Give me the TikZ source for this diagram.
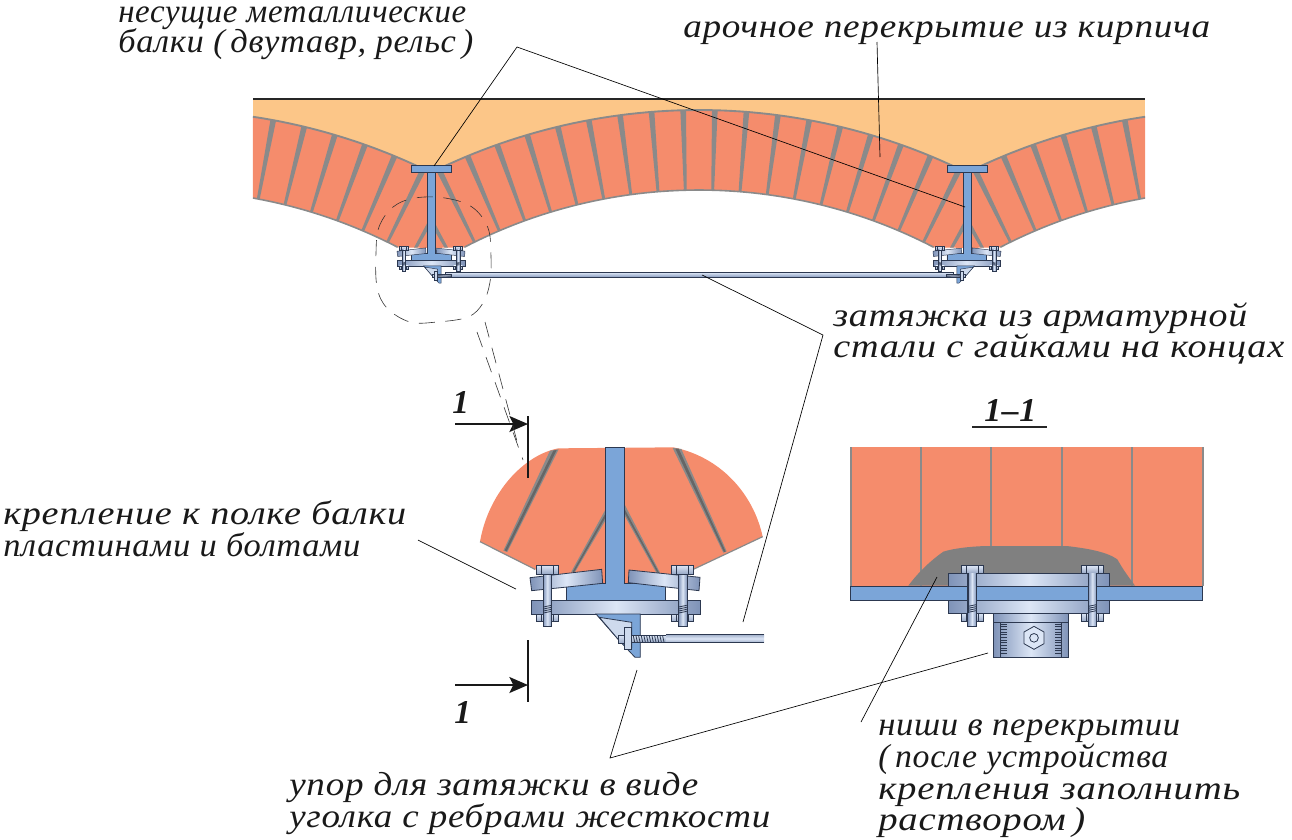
\documentclass[tikz,border=0pt]{standalone}
\usepackage{fontspec}
\usepackage{graphicx}
\usetikzlibrary{arrows.meta,calc}
\setmainfont{Liberation Serif}
\newfontfamily\labfont[LetterSpace=2]{Liberation Serif}
\definecolor{brick}{HTML}{F58C6C}
\definecolor{fillup}{HTML}{FCC688}
\definecolor{mortar}{HTML}{8A8A8A}
\definecolor{steel}{HTML}{7BA5D8}
\definecolor{edge}{HTML}{2C3850}
\definecolor{pdark}{HTML}{7F93B8}
\definecolor{plight}{HTML}{DCE6F6}
\newcommand\dlw{0.5pt}
\newsavebox\fitbox
\newlength\fitlen
% sets text on a given width in reference pixels
\newcommand\fit[2]{\sbox\fitbox{#2}\setlength\fitlen{\wd\fitbox}\pgfmathsetmacro\fitk{#1*0.75/\fitlen}\scalebox{\fitk}[1]{\usebox\fitbox}}
\tikzset{
  lab/.style={anchor=base west,inner sep=0pt,font=\labfont\itshape\fontsize{25}{25}\selectfont,text=black!90},
  leader/.style={draw=black,line width=0.5pt},
  bluepart/.style={fill=steel,draw=edge,line width=\dlw},
  hgrad/.style={left color=pdark,right color=pdark,middle color=plight,draw=edge,line width=\dlw},
  vgrad/.style={top color=plight,bottom color=pdark!80,draw=edge,line width=\dlw},
  lightpart/.style={fill=plight!85!pdark,draw=edge,line width=\dlw},
  dashline/.style={draw=black!80,line width=0.45pt,dash pattern=on 12pt off 8pt},
  secmark/.style={draw=black!90,line width=1.4pt},
  secarrow/.style={draw=black!90,line width=1.4pt,-{Stealth[length=14pt,width=12pt,inset=3pt]}},
}
% wedge-shaped joint: centre x, side sign, angle
\newcommand\joint[3]{%
  \pgfmathsetmacro\tx{#1+#2*605*sin(#3)}%
  \pgfmathsetmacro\ty{715-605*cos(#3)}%
  \pgfmathsetmacro\dxx{#1-\tx}%
  \pgfmathsetmacro\dyy{700-\ty}%
  \pgfmathsetmacro\len{veclen(\dxx,\dyy)}%
  \pgfmathsetmacro\ux{\dxx/\len}%
  \pgfmathsetmacro\uy{\dyy/\len}%
  \fill[mortar] (\tx-\ux*4-\uy*2.9,\ty-\uy*4+\ux*2.9) -- (\tx-\ux*4+\uy*2.9,\ty-\uy*4-\ux*2.9) -- (\tx+\ux*160,\ty+\uy*160) -- cycle;%
}
\newcommand\archL{plot[domain=8.55:26.3,samples=30] ({163+605*sin(\x)},{715-605*cos(\x)}) -- (431,248) -- plot[domain=27.4:10.16,samples=30] ({163+510*sin(\x)},{700-510*cos(\x)}) -- cycle}
\newcommand\archC{plot[domain=-26.3:26.3,samples=60] ({699+605*sin(\x)},{715-605*cos(\x)}) -- (967,248) -- plot[domain=27.4:-27.4,samples=60] ({699+510*sin(\x)},{700-510*cos(\x)}) -- (431,248) -- cycle}
\newcommand\archR{plot[domain=-8.55:-26.3,samples=30] ({1235+605*sin(\x)},{715-605*cos(\x)}) -- (967,248) -- plot[domain=-27.4:-10.16,samples=30] ({1235+510*sin(\x)},{700-510*cos(\x)}) -- cycle}
\newcommand\boltz[6]{%
  \draw[vgrad] (#1-33,#2) rectangle (#1+33,#3);
  \draw[edge,line width=\dlw] (#1-18,#2) -- (#1-18,#3) (#1+18,#2) -- (#1+18,#3);
  \draw[vgrad] (#1-33,#4) rectangle (#1+33,#5);
  \draw[edge,line width=\dlw] (#1-18,#4) -- (#1-18,#5) (#1+18,#4) -- (#1+18,#5);
  \draw[left color=pdark,right color=pdark,middle color=plight,draw=edge,line width=\dlw] (#1-13,#3) rectangle (#1+13,#6);
  \foreach \q in {0,6,12,18} {\draw[edge,line width=\dlw] (#1-12,#4-\q-3) -- (#1+12,#4-\q-8);}
}
\newcommand\assembly[1]{%
  \draw[bluepart] (436,#1) -- (494,#1) -- (494,460) -- (617,460) -- (617,512) -- (318,512) -- (318,460) -- (436,460) -- cycle;
  \draw[hgrad] (210,443) -- (425,418) -- (428,460) -- (215,482) -- cycle;
  \draw[hgrad] (507,420) -- (720,442) -- (717,482) -- (505,458) -- cycle;
  \draw[hgrad] (215,512) rectangle (720,552);
  \boltz{262}{406}{432}{552}{575}{590}
  \boltz{668}{406}{432}{552}{575}{590}
  \draw[bluepart] (408,552) -- (541,552) -- (541,682) -- (525,682) -- (478,632) -- cycle;
  \draw[lightpart] (418,562) -- (515,577) -- (515,652) -- (478,632) -- cycle;
  \draw[vgrad] (475,615) rectangle (492,640);
  \draw[lightpart] (492,592) rectangle (513,658);
  \draw[vgrad] (513,617) rectangle (618,637);
  \foreach \q in {520,528,...,612} {\draw[edge,line width=\dlw] (\q,618) -- (\q+4,636);}
}
\begin{document}
\begin{tikzpicture}[x=0.75pt,y=-0.75pt]
\useasboundingbox (0,0) rectangle (1292,839);
% ---------- vault
\fill[fillup] (253,99) rectangle (1145,175);
\draw[black!85,line width=1.2pt] (253,99) -- (1145,99);
\begin{scope}
  \fill[brick] \archL;
  \clip \archL;
  \foreach \a in {10.5,13.5,...,28.6} {\joint{163}{1}{\a}}
\end{scope}
\begin{scope}
  \fill[brick] \archC;
  \clip \archC;
  \foreach \a in {1.5,4.5,...,28.6} {\joint{699}{1}{\a}\joint{699}{-1}{\a}}
\end{scope}
\begin{scope}
  \fill[brick] \archR;
  \clip \archR;
  \foreach \a in {10.5,13.5,...,28.6} {\joint{1235}{-1}{\a}}
\end{scope}
\draw[mortar,line width=1.4pt] plot[domain=8.55:26.3,samples=30] ({163+605*sin(\x)},{715-605*cos(\x)});
\draw[mortar,line width=1.4pt] plot[domain=-26.3:26.3,samples=60] ({699+605*sin(\x)},{715-605*cos(\x)});
\draw[mortar,line width=1.4pt] plot[domain=-8.55:-26.3,samples=30] ({1235+605*sin(\x)},{715-605*cos(\x)});
\draw[mortar,line width=1.2pt] plot[domain=10.16:27.4,samples=30] ({163+510*sin(\x)},{700-510*cos(\x)});
\draw[mortar,line width=1.2pt] plot[domain=-27.4:27.4,samples=60] ({699+510*sin(\x)},{700-510*cos(\x)});
\draw[mortar,line width=1.2pt] plot[domain=-10.16:-27.4,samples=30] ({1235+510*sin(\x)},{700-510*cos(\x)});
% rod
\draw[top color=plight,bottom color=pdark,draw=edge,line width=0.4pt] (445,272.5) rectangle (953,277.5);
% small assemblies
\renewcommand\dlw{0.35pt}
\begin{scope}[shift={(369,192.2)},scale=0.1333]
  \assembly{-151}
\end{scope}
\begin{scope}[shift={(1029,192.2)},xscale=-0.1333,yscale=0.1333]
  \assembly{-151}
\end{scope}
\draw[bluepart] (411,165) rectangle (451,172);
\draw[bluepart] (947,165) rectangle (987,172);
% ---------- big detail
\renewcommand\dlw{0.6pt}
\begin{scope}[shift={(460,430)},scale=1/3]
  \path (60,335) coordinate (bl) (225,418) coordinate (b2) (700,418) coordinate (b3) (908,320) coordinate (br);
  \fill[brick] (bl) .. controls (85,190) and (190,75) .. (295,55) -- (640,52) .. controls (780,80) and (880,190) .. (br) -- (b3) -- (585,459) -- (345,459) -- (b2) -- cycle;
  \draw[mortar,line width=0.9pt] (bl) -- (b2) (b3) -- (br);
  \fill[mortar] (270,62) -- (296,58) -- (142,366) -- (130,362) -- cycle;
  \fill[black!60] (280,62) -- (290,60) -- (140,364) -- (134,361) -- cycle;
  \fill[mortar] (638,54) -- (664,57) -- (800,364) -- (790,368) -- cycle;
  \fill[black!60] (646,56) -- (656,56) -- (797,365) -- (792,366) -- cycle;
  \fill[mortar] (440,232) -- (440,265) -- (344,428) -- (334,425) -- cycle;
  \fill[black!60] (440,244) -- (440,256) -- (342,427) -- (338,425) -- cycle;
  \fill[mortar] (490,216) -- (490,250) -- (590,430) -- (600,428) -- cycle;
  \fill[black!60] (490,230) -- (490,242) -- (593,429) -- (597,428) -- cycle;
  \assembly{51}
  \shade[top color=pdark!70,bottom color=pdark!70,middle color=plight] (618,614) rectangle (912,637);
  \draw[edge,line width=0.8pt] (618,613) -- (912,613);
  \draw[edge,line width=0.5pt] (618,638) -- (912,638);
\end{scope}
% ---------- section 1-1
\fill[brick] (851,447) rectangle (1203,586);
\foreach \q in {921,991,1062,1132} {\draw[mortar,line width=1pt] (\q,447) -- (\q,586);}
\draw[mortar,line width=1pt] (851,447) -- (851,586) (1203,447) -- (1203,586);
\begin{scope}[shift={(840,520)},scale=1/3]
  \fill[black!50] (205,197) .. controls (225,170) and (260,130) .. (310,95) .. controls (340,85) and (400,78) .. (450,78) -- (680,78) .. controls (740,85) and (800,95) .. (832,118) .. controls (850,150) and (865,170) .. (885,197) -- cycle;
  \draw[hgrad] (325,160) rectangle (808,198);
  \draw[bluepart] (32,198) rectangle (1088,242);
  \draw[hgrad] (325,242) rectangle (808,280);
  \boltz{396}{137}{160}{280}{303}{318}
  \boltz{757}{137}{160}{280}{303}{318}
  \shade[left color=pdark,right color=pdark,middle color=plight] (384,161) rectangle (408,197);
  \shade[left color=pdark,right color=pdark,middle color=plight] (745,161) rectangle (769,197);
  \draw[edge,line width=\dlw] (384,160) -- (384,280) (408,160) -- (408,280) (745,160) -- (745,280) (769,160) -- (769,280);
  \draw[hgrad] (460,280) rectangle (685,307);
  \draw[hgrad] (460,307) rectangle (685,412);
  \foreach \q in {312,320,...,405} {
    \draw[edge,line width=0.35pt] (482,\q) -- (500,\q);
    \draw[edge,line width=0.35pt] (645,\q) -- (663,\q);
  }
  \draw[edge,line width=\dlw] (482,307) -- (482,412) (663,307) -- (663,412);
  \draw[fill=plight,draw=edge,line width=\dlw] (582,319) -- (612,336) -- (612,371) -- (582,388) -- (552,371) -- (552,336) -- cycle;
  \draw[draw=edge,line width=\dlw] (582,353.5) circle (13);
\end{scope}
% ---------- section marks
\draw[secmark] (528,416) -- (528,478);
\draw[secmark] (528,640) -- (528,702);
\coordinate (sa1) at (455,424); \coordinate (sa2) at (528,424);
\coordinate (sb1) at (455,685); \coordinate (sb2) at (528,685);
\draw[secarrow] (sa1) -- (sa2);
\draw[secarrow] (sb1) -- (sb2);
\node[lab] (one1) at (452,413) {\bfseries 1};
\node[lab] (one2) at (454,723) {\bfseries 1};
\node[lab] (sec) at (984,421) {\bfseries\fit{52}{1–1}};
\draw[black!85,line width=1pt] (972,427) -- (1047,427);
% ---------- dashed callout
\draw[dashline] plot[smooth cycle,tension=0.6] coordinates {(415,198) (445,198) (472,207) (488,228) (491,257) (490,282) (483,303) (468,317) (437,322) (410,322) (387,308) (377,287) (376,253) (379,227) (393,207)};
\draw[dashline] (477,332) -- (523,460);
\draw[dashline] (485,322) -- (518,445);
% ---------- leaders
\coordinate (l1) at (517,47); \coordinate (l1a) at (434,166); \coordinate (l1b) at (965,207);
\draw[leader] (l1a) -- (l1) -- (l1b);
\coordinate (l2) at (877,42); \coordinate (l2a) at (880,157);
\draw[leader] (l2) -- (l2a);
\coordinate (l3) at (702,275); \coordinate (l3m) at (823,335); \coordinate (l3b) at (743,622);
\draw[leader] (l3) -- (l3m) -- (l3b);
\coordinate (l4) at (418,540); \coordinate (l4a) at (516,589);
\draw[leader] (l4) -- (l4a);
\coordinate (l5) at (610,758); \coordinate (l5a) at (637,670); \coordinate (l5b) at (988,653);
\draw[leader] (l5a) -- (l5) -- (l5b);
\coordinate (l6) at (861,722); \coordinate (l6a) at (937,577);
\draw[leader] (l6) -- (l6a);
% ---------- labels
\node[lab] (t1) at (118,22) {\fit{348}{несущие металлические}};
\node[lab] (t2) at (118,52) {\fit{355}{балки (\,двутавр, рельс\,)}};
\node[lab] (t3) at (683,37) {\fit{527}{арочное перекрытие из кирпича}};
\node[lab] (t4) at (833,326) {\fit{414}{затяжка из арматурной}};
\node[lab] (t5) at (833,357) {\fit{451}{стали с гайками на концах}};
\node[lab] (t6) at (3,524) {\fit{403}{крепление к полке балки}};
\node[lab] (t7) at (3,556) {\fit{357}{пластинами и болтами}};
\node[lab] (t8) at (289,795) {\fit{409}{упор для затяжки в виде}};
\node[lab] (t9) at (289,827) {\fit{481}{уголка с ребрами жесткости}};
\node[lab] (t10) at (878,735) {\fit{302}{ниши в перекрытии}};
\node[lab] (t11) at (878,767) {\fit{290}{(\,после устройства}};
\node[lab] (t12) at (878,799) {\fit{362}{крепления заполнить}};
\node[lab] (t13) at (878,830) {\fit{207}{раствором\,)}};
\end{tikzpicture}
\end{document}
